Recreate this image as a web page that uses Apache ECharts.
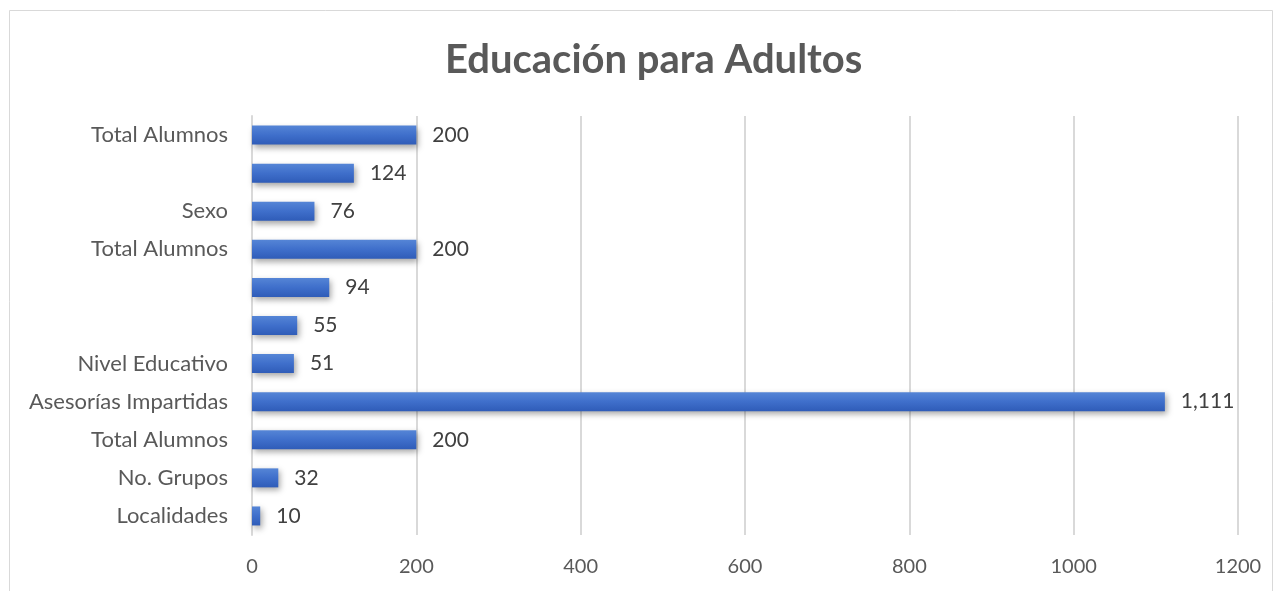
<!DOCTYPE html>
<html>
<head>
<meta charset="utf-8">
<script src="https://cdn.jsdelivr.net/npm/echarts@6/dist/echarts.min.js"></script>
<style>
    html, body { margin: 0; padding: 0; background: #fff; }
    #chart { width: 1278px; height: 591px; }
</style>
</head>
<body>
<div id="chart"></div>
<script>
// categorías de abajo hacia arriba (orden del eje de ECharts)
var categories = ['Localidades', 'No. Grupos', 'Total Alumnos', 'Asesorías Impartidas', 'Nivel Educativo', '', '', 'Total Alumnos', 'Sexo', '', 'Total Alumnos'];
var values = [10, 32, 200, 1111, 51, 55, 94, 200, 76, 124, 200];
var xTicks = [0, 200, 400, 600, 800, 1000, 1200];

var font = 'Lato, "Open Sans", sans-serif';
var myChart = echarts.init(document.getElementById('chart'));

var option = {
    backgroundColor: '#fff',
    animation: false,
    title: {
        text: 'Educación para Adultos',
        left: 440,
        top: 35,
        textStyle: { fontFamily: font, fontSize: 40, fontWeight: 'bold', color: '#595959' }
    },
    // marco exterior del gráfico
    graphic: [{
        type: 'rect',
        shape: { x: 9.5, y: 10.5, width: 1263, height: 600 },
        style: { fill: 'none', stroke: '#d9d9d9', lineWidth: 1 },
        silent: true
    }],
    grid: { left: 252, right: 40, top: 116, bottom: 56 },
    xAxis: {
        type: 'value',
        min: xTicks[0],
        max: xTicks[xTicks.length - 1],
        interval: 200,
        axisLine: { show: false },
        axisTick: { show: false },
        axisLabel: {
            color: '#595959', fontFamily: font, fontSize: 20, margin: 22,
            formatter: function (v) { return String(v); }
        },
        splitLine: { lineStyle: { color: '#d9d9d9', width: 2 } }
    },
    yAxis: {
        type: 'category',
        data: categories,
        axisLine: { show: true, lineStyle: { color: '#d9d9d9', width: 2 } },
        axisTick: { show: false },
        axisLabel: { color: '#595959', fontFamily: font, fontSize: 22, margin: 24, interval: 0 }
    },
    series: [{
        type: 'bar',
        data: values,
        barWidth: 19,
        itemStyle: {
            color: new echarts.graphic.LinearGradient(0, 0, 0, 1, [
                { offset: 0, color: '#5585d6' },
                { offset: 0.5, color: '#3f6fcb' },
                { offset: 1, color: '#2f5cb8' }
            ]),
            shadowColor: 'rgba(0,0,0,0.35)',
            shadowBlur: 6,
            shadowOffsetX: 2,
            shadowOffsetY: 3
        },
        label: {
            show: true,
            position: 'right',
            distance: 16,
            color: '#404040',
            fontFamily: font,
            fontSize: 21,
            formatter: function (p) { return p.value.toLocaleString('en-US'); }
        }
    }]
};

myChart.setOption(option);
</script>
</body>
</html>
